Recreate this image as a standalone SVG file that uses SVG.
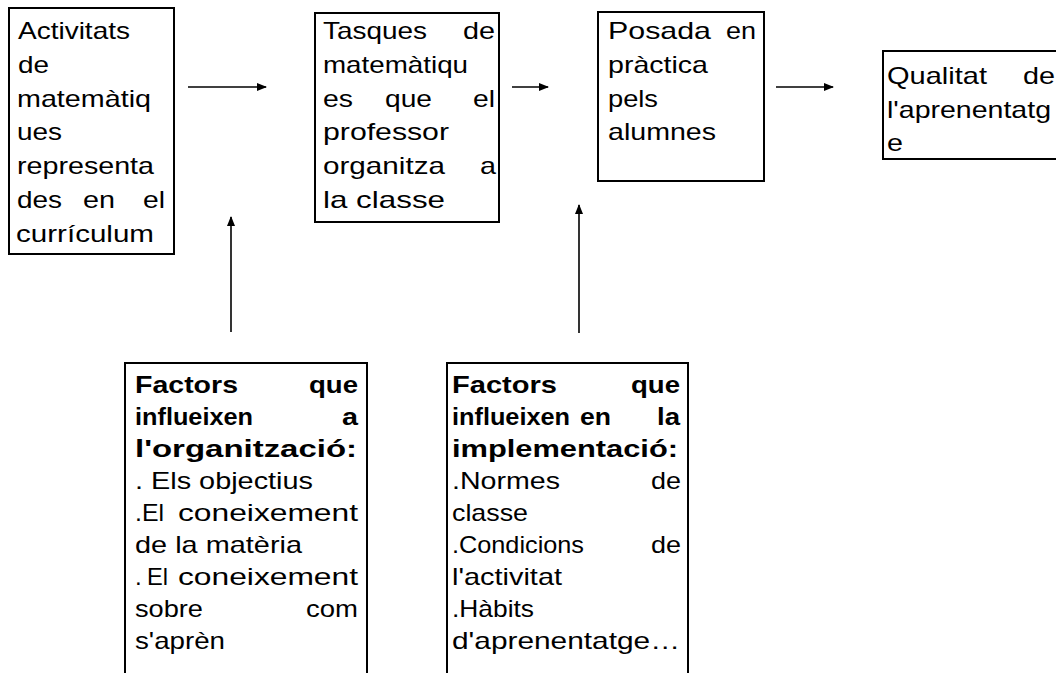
<svg xmlns="http://www.w3.org/2000/svg" width="1056" height="673" viewBox="0 0 1056 673">
<style>
.box{fill:#fff;stroke:#000;stroke-width:2}
text{font-family:"Liberation Sans",Arial,sans-serif;font-size:24px;fill:#000}
.b{font-weight:bold}
.conn{stroke:#000;stroke-width:1.6;fill:none}
</style>
<defs>
<marker id="ah" markerWidth="10" markerHeight="8" refX="9" refY="4" orient="auto" markerUnits="userSpaceOnUse">
<path d="M0,0 L10,4 L0,8 Z" fill="#000"/>
</marker>
</defs>
<rect width="1056" height="673" fill="#fff"/>
<g id="n1">
<rect class="box" x="9" y="8" width="165" height="246"/>
<text x="18" y="39" textLength="112" lengthAdjust="spacingAndGlyphs">Activitats</text>
<text x="18" y="72.8" textLength="31" lengthAdjust="spacingAndGlyphs">de</text>
<text x="17" y="106.6" textLength="134" lengthAdjust="spacingAndGlyphs">matemàtiq</text>
<text x="17" y="140.4" textLength="45" lengthAdjust="spacingAndGlyphs">ues</text>
<text x="17" y="174.2" textLength="137" lengthAdjust="spacingAndGlyphs">representa</text>
<text x="17" y="208" textLength="45" lengthAdjust="spacingAndGlyphs">des</text>
<text x="83" y="208" textLength="32" lengthAdjust="spacingAndGlyphs">en</text>
<text x="143" y="208" textLength="22" lengthAdjust="spacingAndGlyphs">el</text>
<text x="16" y="242" textLength="138" lengthAdjust="spacingAndGlyphs">currículum</text>
</g>
<g id="n2">
<rect class="box" x="315" y="13" width="184" height="209"/>
<text x="323" y="39" textLength="104" lengthAdjust="spacingAndGlyphs">Tasques</text>
<text x="463" y="39" textLength="32" lengthAdjust="spacingAndGlyphs">de</text>
<text x="323" y="72.8" textLength="145" lengthAdjust="spacingAndGlyphs">matemàtiqu</text>
<text x="323" y="106.6" textLength="30" lengthAdjust="spacingAndGlyphs">es</text>
<text x="385" y="106.6" textLength="47" lengthAdjust="spacingAndGlyphs">que</text>
<text x="473" y="106.6" textLength="22" lengthAdjust="spacingAndGlyphs">el</text>
<text x="323" y="140.4" textLength="126" lengthAdjust="spacingAndGlyphs">professor</text>
<text x="323" y="174.2" textLength="122" lengthAdjust="spacingAndGlyphs">organitza</text>
<text x="480" y="174.2" textLength="16" lengthAdjust="spacingAndGlyphs">a</text>
<text x="323" y="208" textLength="122" lengthAdjust="spacingAndGlyphs">la classe</text>
</g>
<g id="n3">
<rect class="box" x="598" y="12" width="166" height="169"/>
<text x="608" y="39" textLength="103" lengthAdjust="spacingAndGlyphs">Posada</text>
<text x="726" y="39" textLength="30" lengthAdjust="spacingAndGlyphs">en</text>
<text x="608" y="72.8" textLength="100" lengthAdjust="spacingAndGlyphs">pràctica</text>
<text x="608" y="106.6" textLength="50" lengthAdjust="spacingAndGlyphs">pels</text>
<text x="608" y="140.4" textLength="108" lengthAdjust="spacingAndGlyphs">alumnes</text>
</g>
<g id="n4">
<rect class="box" x="883" y="51" width="200" height="108"/>
<text x="887" y="84" textLength="100" lengthAdjust="spacingAndGlyphs">Qualitat</text>
<text x="1023" y="84" textLength="32" lengthAdjust="spacingAndGlyphs">de</text>
<text x="887" y="117.5" textLength="164" lengthAdjust="spacingAndGlyphs">l'aprenentatg</text>
<text x="887" y="151" textLength="16" lengthAdjust="spacingAndGlyphs">e</text>
</g>
<g id="n5">
<rect class="box" x="125" y="363" width="242" height="340"/>
<text class="b" x="135" y="393" textLength="103" lengthAdjust="spacingAndGlyphs">Factors</text>
<text class="b" x="309" y="393" textLength="49" lengthAdjust="spacingAndGlyphs">que</text>
<text class="b" x="135" y="425" textLength="118" lengthAdjust="spacingAndGlyphs">influeixen</text>
<text class="b" x="342" y="425" textLength="16" lengthAdjust="spacingAndGlyphs">a</text>
<text class="b" x="135" y="457" textLength="222" lengthAdjust="spacingAndGlyphs">l'organització:</text>
<text x="135" y="489" textLength="178" lengthAdjust="spacingAndGlyphs">. Els objectius</text>
<text x="135" y="521" textLength="29" lengthAdjust="spacingAndGlyphs">.El</text>
<text x="178" y="521" textLength="180" lengthAdjust="spacingAndGlyphs">coneixement</text>
<text x="135" y="553" textLength="167" lengthAdjust="spacingAndGlyphs">de la matèria</text>
<text x="135" y="585">.</text>
<text x="147" y="585" textLength="21" lengthAdjust="spacingAndGlyphs">El</text>
<text x="178" y="585" textLength="180" lengthAdjust="spacingAndGlyphs">coneixement</text>
<text x="135" y="617" textLength="68" lengthAdjust="spacingAndGlyphs">sobre</text>
<text x="306" y="617" textLength="52" lengthAdjust="spacingAndGlyphs">com</text>
<text x="135" y="649" textLength="90" lengthAdjust="spacingAndGlyphs">s'aprèn</text>
</g>
<g id="n6">
<rect class="box" x="447" y="363" width="241" height="340"/>
<text class="b" x="452" y="393" textLength="105" lengthAdjust="spacingAndGlyphs">Factors</text>
<text class="b" x="631" y="393" textLength="49" lengthAdjust="spacingAndGlyphs">que</text>
<text class="b" x="452" y="425" textLength="118" lengthAdjust="spacingAndGlyphs">influeixen</text>
<text class="b" x="580" y="425" textLength="31" lengthAdjust="spacingAndGlyphs">en</text>
<text class="b" x="657" y="425" textLength="23" lengthAdjust="spacingAndGlyphs">la</text>
<text class="b" x="452" y="457" textLength="226" lengthAdjust="spacingAndGlyphs">implementació:</text>
<text x="452" y="489" textLength="108" lengthAdjust="spacingAndGlyphs">.Normes</text>
<text x="651" y="489" textLength="30" lengthAdjust="spacingAndGlyphs">de</text>
<text x="452" y="521" textLength="76" lengthAdjust="spacingAndGlyphs">classe</text>
<text x="452" y="553" textLength="132" lengthAdjust="spacingAndGlyphs">.Condicions</text>
<text x="651" y="553" textLength="30" lengthAdjust="spacingAndGlyphs">de</text>
<text x="452" y="585" textLength="110" lengthAdjust="spacingAndGlyphs">l'activitat</text>
<text x="452" y="617" textLength="82" lengthAdjust="spacingAndGlyphs">.Hàbits</text>
<text x="452" y="649" textLength="228" lengthAdjust="spacingAndGlyphs">d'aprenentatge…</text>
</g>
<g id="connectors">
<line class="conn" x1="188" y1="87" x2="266" y2="87" marker-end="url(#ah)"/>
<line class="conn" x1="512" y1="87" x2="548" y2="87" marker-end="url(#ah)"/>
<line class="conn" x1="776" y1="87" x2="833" y2="87" marker-end="url(#ah)"/>
<line class="conn" x1="231" y1="332" x2="231" y2="217" marker-end="url(#ah)"/>
<line class="conn" x1="579" y1="333" x2="579" y2="205" marker-end="url(#ah)"/>
</g>
</svg>
